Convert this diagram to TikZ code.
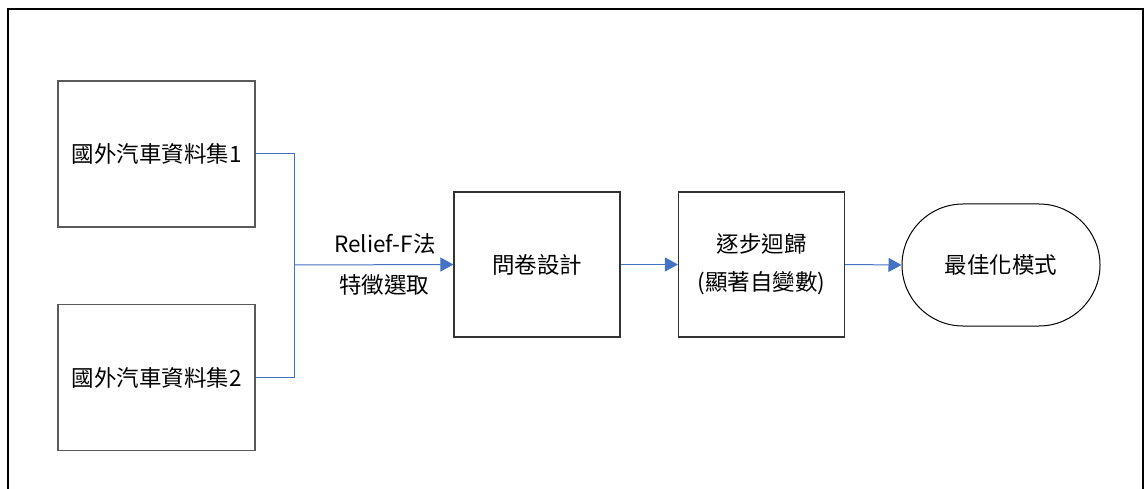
\documentclass[tikz,border=0pt]{standalone}
\usepackage{fontspec}
\setmainfont{Noto Sans CJK TC}
\usetikzlibrary{shapes.misc,arrows.meta}
\definecolor{linkblue}{HTML}{4472C4}
\definecolor{boxgray}{HTML}{5A5A5A}
\tikzset{
  databox/.style={draw=boxgray,line width=1.2pt,minimum width=197pt,minimum height=146pt,inner sep=0pt,font=\fontsize{22.5}{26}\selectfont},
  procbox/.style={draw=black!80,line width=1.2pt,minimum width=166pt,minimum height=145pt,inner sep=0pt,align=center,font=\fontsize{22.5}{38}\selectfont},
  endnode/.style={draw=black,line width=1pt,rounded rectangle,minimum width=198pt,minimum height=122pt,inner sep=0pt,font=\fontsize{22.5}{26}\selectfont},
  link/.style={draw=linkblue,line width=1pt},
  arrowlink/.style={link,-{Triangle[length=13pt,width=14pt]}},
  lbl/.style={font=\fontsize{22.5}{26}\selectfont,inner sep=0pt}
}
\begin{document}
\begin{tikzpicture}[x=1pt,y=-1pt]
\useasboundingbox (0,0) rectangle (1148,489);
\draw[line width=2.2pt] (8,489) -- (8,9) -- (1143,9) -- (1143,489);
\node[databox] (d1) at (156.5,154) {國外汽車資料集1};
\node[databox] (d2) at (156.5,377.5) {國外汽車資料集2};
\node[procbox] (q) at (537,264.5) {問卷設計};
\node[procbox] (s) at (761.5,264.5) {逐步迴歸\\(顯著自變數)};
\node[endnode] (m) at (1001,265) {最佳化模式};
\coordinate (j) at (294,265);
\draw[link] (d1.east) -| (j);
\draw[link] (d2.east) -| (j);
\draw[arrowlink] (j) -- (q.west);
\node[lbl] (l1) at (385,244) {Relief-F法};
\node[lbl] (l2) at (384,285) {特徵選取};
\draw[arrowlink] (q.east) -- (s.west);
\draw[arrowlink] (s.east) -- (m.west);
\end{tikzpicture}
\end{document}
